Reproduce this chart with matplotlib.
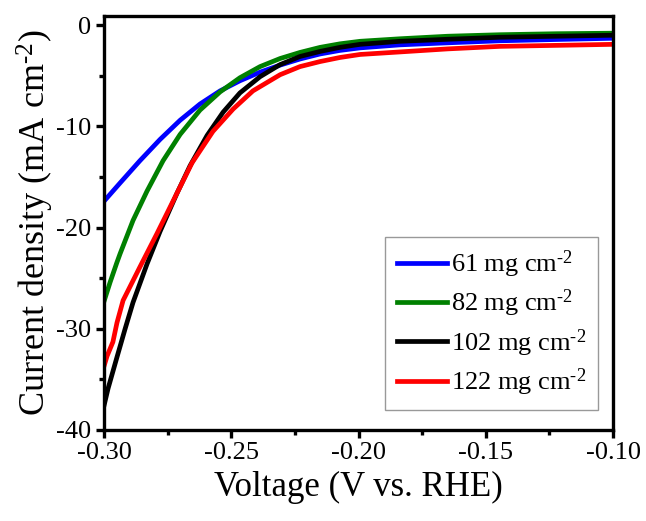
import matplotlib
matplotlib.use("Agg")
import matplotlib.pyplot as plt
from matplotlib.ticker import MultipleLocator

plt.rcParams['font.family'] = ['Liberation Serif', 'DejaVu Serif']
plt.rcParams['mathtext.fontset'] = 'custom'
plt.rcParams['mathtext.rm'] = 'Liberation Serif'
plt.rcParams['mathtext.it'] = 'Liberation Serif:italic'
plt.rcParams['mathtext.default'] = 'rm'

labels = ["61 mg cm$^{\\text{-}2}$", "82 mg cm$^{\\text{-}2}$",
          "102 mg cm$^{\\text{-}2}$", "122 mg cm$^{\\text{-}2}$"]
colors = ["#0000ff", "#008000", "#000000", "#ff0000"]

x61 = [-0.300, -0.2937, -0.2859, -0.278, -0.2701, -0.2623, -0.2544, -0.2466, -0.2387, -0.2308,
       -0.223, -0.2151, -0.2073, -0.1994, -0.1837, -0.165, -0.1444, -0.122, -0.100]
y61 = [-17.4, -15.6, -13.4, -11.3, -9.4, -7.8, -6.5, -5.5, -4.65, -3.95,
       -3.35, -2.85, -2.5, -2.25, -1.95, -1.75, -1.55, -1.42, -1.3]

x82 = [-0.300, -0.2976, -0.295, -0.2937, -0.2886, -0.2831, -0.2768, -0.2701, -0.2623, -0.2544,
       -0.2466, -0.2387, -0.2308, -0.223, -0.2151, -0.2073, -0.1994, -0.1837, -0.165, -0.1444,
       -0.122, -0.100]
y82 = [-27.3, -25.4, -23.5, -22.6, -19.3, -16.4, -13.4, -10.8, -8.4, -6.6,
       -5.2, -4.1, -3.3, -2.7, -2.2, -1.85, -1.6, -1.35, -1.1, -0.95,
       -0.85, -0.8]

x102 = [-0.300, -0.2984, -0.2949, -0.2917, -0.2886, -0.2831, -0.278, -0.2713, -0.2662, -0.2595,
        -0.2532, -0.2466, -0.2387, -0.2308, -0.223, -0.2151, -0.2073, -0.1994, -0.1837, -0.165,
        -0.1444, -0.122, -0.100]
y102 = [-37.6, -35.9, -32.8, -30.0, -27.4, -23.6, -20.4, -16.6, -13.9, -10.9,
        -8.6, -6.7, -5.1, -3.9, -3.1, -2.6, -2.2, -1.9, -1.6, -1.4,
        -1.2, -1.1, -1.0]

x122 = [-0.300, -0.2988, -0.2965, -0.2949, -0.2925, -0.2859, -0.2792, -0.2729, -0.2654, -0.2572,
        -0.2493, -0.2415, -0.2308, -0.223, -0.2151, -0.2073, -0.1994, -0.1837, -0.165, -0.1444,
        -0.122, -0.100]
y122 = [-33.7, -32.7, -31.3, -29.4, -27.2, -23.9, -20.6, -17.4, -13.6, -10.5,
        -8.3, -6.5, -4.9, -4.1, -3.6, -3.2, -2.9, -2.65, -2.35, -2.1,
        -2.0, -1.9]

series = [(x61, y61), (x82, y82), (x102, y102), (x122, y122)]

fig = plt.figure(figsize=(6.46, 5.21), dpi=100)
ax = fig.add_axes([0.161, 0.1747, 0.788, 0.7946])

for (xs, ys), lab, c in zip(series, labels, colors):
    ax.plot(xs, ys, color=c, lw=3.4, label=lab, solid_joinstyle='round')

ax.set_xlim(-0.30, -0.10)
ax.set_ylim(-40, 0.9)
ax.xaxis.set_major_locator(MultipleLocator(0.05))
ax.xaxis.set_minor_locator(MultipleLocator(0.025))
ax.yaxis.set_major_locator(MultipleLocator(10))
ax.yaxis.set_minor_locator(MultipleLocator(5))
ax.xaxis.set_major_formatter(plt.FuncFormatter(lambda v, p: f"{v:.2f}"))
ax.yaxis.set_major_formatter(plt.FuncFormatter(lambda v, p: f"{int(round(v))}"))

for s in ax.spines.values():
    s.set_linewidth(2.4)
ax.tick_params(which='major', direction='out', length=6, width=2.4, labelsize=19, pad=3)
ax.tick_params(which='minor', direction='out', length=3.5, width=2.4)

ax.set_xlabel("Voltage (V vs. RHE)", fontsize=25, labelpad=5)
ax.set_ylabel("Current density (mA cm$^{\\text{-}2}$)", fontsize=26, labelpad=0)

leg = ax.legend(loc='lower right', bbox_to_anchor=(0.9705, 0.048), borderaxespad=0,
                fontsize=19, frameon=True, fancybox=False, handlelength=1.9,
                handletextpad=0.15, labelspacing=0.3, borderpad=0.45)
leg.get_frame().set_edgecolor('#808080')
leg.get_frame().set_linewidth(1.0)

fig.savefig("out.png", dpi=100)
